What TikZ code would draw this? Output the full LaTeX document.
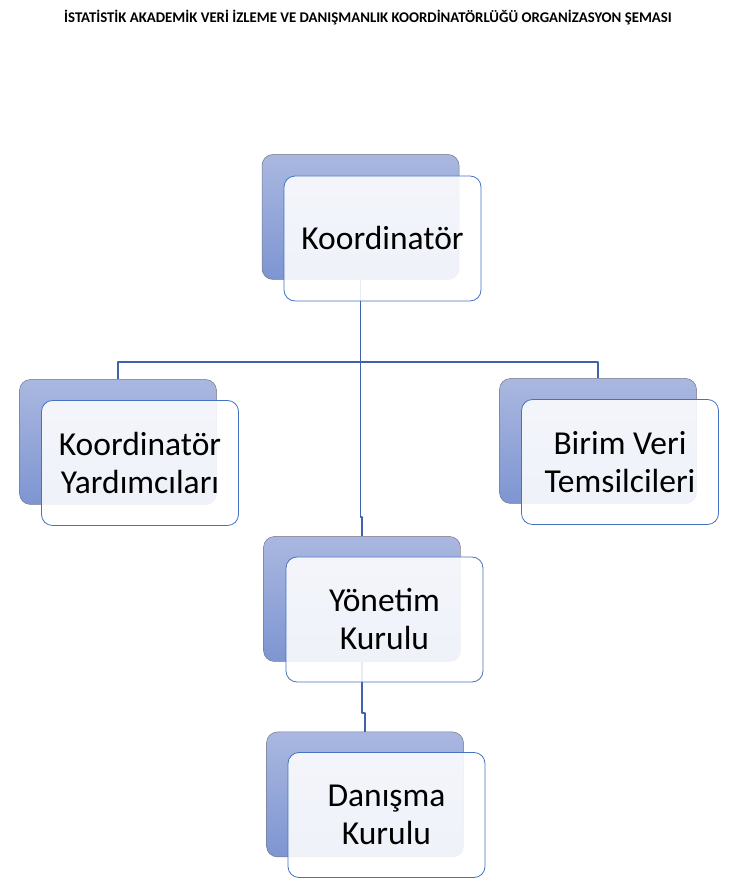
\documentclass[tikz,border=0pt]{standalone}
\usepackage{fontspec}
\setmainfont{Carlito}
\definecolor{backtop}{RGB}{170,184,224}
\definecolor{backbot}{RGB}{126,149,210}
\definecolor{backline}{RGB}{120,120,130}
\definecolor{frontline}{RGB}{68,114,196}
\definecolor{linkblue}{RGB}{63,98,170}
\tikzset{
  backbox/.style={rectangle,rounded corners=11bp,minimum width=197bp,minimum height=125bp,
    top color=backtop,bottom color=backbot,draw=backline,line width=0.5bp},
  frontbox/.style={rectangle,rounded corners=11bp,minimum width=197bp,minimum height=125bp,
    fill=white,fill opacity=0.88,text opacity=1,draw=frontline,line width=0.8bp,
    align=center,font=\fontsize{33.5bp}{38bp}\selectfont},
  link/.style={draw=linkblue,line width=1.3bp},
}
\begin{document}
\begin{tikzpicture}[line join=bevel,]
%%
\useasboundingbox (0bp,0bp) rectangle (739bp,884bp);
\node (title) at (368bp,866bp) [font=\bfseries\fontsize{14.8bp}{17bp}\selectfont] {İSTATİSTİK AKADEMİK VERİ İZLEME VE DANIŞMANLIK KOORDİNATÖRLÜĞÜ ORGANİZASYON ŞEMASI};
%
\node (koord_b) at (360.5bp,667bp) [backbox] {};
  \node (yard_b) at (118bp,442bp) [backbox] {};
  \node (birim_b) at (598bp,443bp) [backbox] {};
  \node (yonetim_b) at (362bp,285bp) [backbox] {};
  \node (danisma_b) at (365bp,89.5bp) [backbox] {};
  \coordinate (bus) at (360.5bp,522bp);
  \coordinate (jog_a) at (362bp,367bp);
  \coordinate (jog_b) at (365bp,171bp);
%
\draw [link] (koord_b.south) -- (bus);
  \draw [link] (yard_b.north) |- (bus) -| (birim_b.north);
  \draw [link] (bus) |- (jog_a) -- (yonetim_b.north);
  \draw [link] (yonetim_b.south) |- (jog_b) -- (danisma_b.north);
%
\node (koord) at (382.5bp,645.5bp) [frontbox] {Koordinatör};
  \node (yard) at (140bp,421bp) [frontbox] {Koordinatör\\Yardımcıları};
  \node (birim) at (620bp,422bp) [frontbox] {Birim Veri\\Temsilcileri};
  \node (yonetim) at (384.5bp,264.5bp) [frontbox] {Yönetim\\Kurulu};
  \node (danisma) at (386.5bp,69bp) [frontbox] {Danışma\\Kurulu};
%
\end{tikzpicture}
\end{document}
